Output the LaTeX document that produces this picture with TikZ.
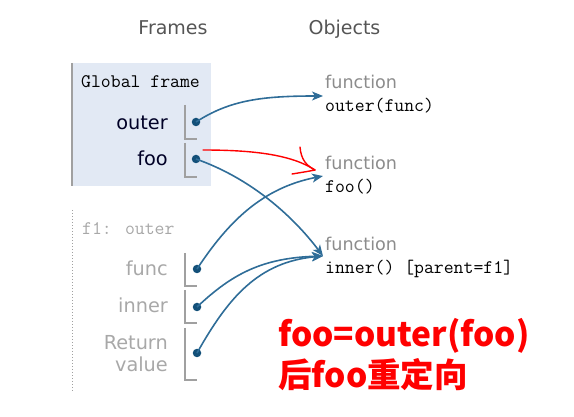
\documentclass[tikz,border=0pt]{standalone}
\usepackage{fontspec}
\setmainfont{DejaVu Sans}
\newfontfamily\cjkf{Noto Sans CJK SC}
\usetikzlibrary{arrows.meta}
\definecolor{framebg}{HTML}{E2E9F4}
\definecolor{arrowc}{HTML}{2F6D98}
\definecolor{dotc}{HTML}{135079}
\definecolor{headc}{HTML}{555555}
\definecolor{fadec}{HTML}{A8A8A8}
\definecolor{funcc}{HTML}{8C8C8C}
\definecolor{brk}{HTML}{A0A0A0}
\tikzset{
  hdr/.style={anchor=base,text=headc,font=\fontsize{19}{19}\selectfont,inner sep=0},
  glabel/.style={anchor=base east,text=black!85!blue,font=\fontsize{19.3}{19.3}\selectfont,inner sep=0},
  flabel/.style={anchor=base east,text=fadec,font=\fontsize{19.3}{19.3}\selectfont,inner sep=0},
  monotext/.style={anchor=base west,font=\ttfamily\fontsize{19.2}{19.2}\selectfont,inner sep=0},
  functxt/.style={anchor=base west,text=funcc,font=\fontsize{17.6}{17.6}\selectfont,inner sep=0},
  ptr/.style={circle,fill=dotc,inner sep=0,minimum size=8.5pt},
  brack/.style={draw=brk,line width=1.2pt},
  link/.style={draw=arrowc,line width=1.6pt,-{Stealth[length=11pt,width=9pt,inset=3pt]}},
  redtxt/.style={anchor=base west,text=red,font=\cjkf\bfseries\fontsize{33.5}{33.5}\selectfont,inner sep=0},
  redpen/.style={draw=red,line width=1.4pt,line cap=round,line join=round}
}
\begin{document}
\begin{tikzpicture}[x=1pt,y=-1pt]
\useasboundingbox (0,0) rectangle (574,417);
% headers
\node[hdr] (hf) at (173,35) {Frames};
\node[hdr] (ho) at (344.5,35) {Objects};
% global frame
\fill[framebg] (72,63) rectangle (211,186);
\draw[brk,line width=1.6pt] (72,63) -- (72,186);
\node[monotext] (gf) at (81,88) {Global frame};
\node[glabel] (louter) at (168,130) {outer};
\node[glabel] (lfoo) at (168,166) {foo};
\draw[brack] (185,105) -- (185,139) -- (197,139);
\draw[brack] (185,143) -- (185,177) -- (197,177);
\node[ptr] (douter) at (196,122) {};
\node[ptr] (dfoo) at (196,159) {};
% f1 frame
\draw[brk,line width=1pt,dotted] (72,210) -- (72,392);
\node[monotext,text=fadec] (f1) at (82,235) {f1: outer};
\node[flabel] (lfunc) at (168,276) {func};
\node[flabel] (linner) at (168,313) {inner};
\node[flabel] (lret1) at (168,350) {Return};
\node[flabel] (lret2) at (168,372) {value};
\draw[brack] (185,253) -- (185,286) -- (197,286);
\draw[brack] (185,290) -- (185,323) -- (197,323);
\draw[brack] (185,328) -- (185,380) -- (197,380);
\node[ptr] (dfunc) at (197,269) {};
\node[ptr] (dinner) at (197,307) {};
\node[ptr] (dret) at (197,353) {};
% objects
\node[functxt] (fn1) at (325,89) {function};
\node[monotext] (o1) at (325,112) {outer(func)};
\node[functxt] (fn2) at (325,170) {function};
\node[monotext] (o2) at (325,193) {foo()};
\node[functxt] (fn3) at (325,251) {function};
\node[monotext] (o3) at (325,274) {inner() [parent=f1]};
\coordinate (t1) at (323,96);
\coordinate (t2) at (323,176);
\coordinate (t3) at (323,256);
% links
\draw[link] (douter.center) .. controls (230,100) and (262,96) .. (t1);
\draw[link] (dfoo.center) .. controls (250,178) and (292,215) .. (t3);
\draw[link] (dfunc.center) .. controls (228,222) and (262,188) .. (t2);
\draw[link] (dinner.center) .. controls (232,274) and (262,258) .. (t3);
\draw[link] (dret.center) .. controls (228,298) and (258,262) .. (t3);
% red annotation
\coordinate (rs) at (203,150);
\coordinate (rt) at (315,170);
\coordinate (ra) at (300,147);
\coordinate (rb) at (292,174);
\draw[redpen] (rs) .. controls (255,150) and (292,155) .. (rt);
\draw[redpen] (ra) .. controls (301,160) and (307,166) .. (rt) .. controls (305,172) and (298,173) .. (rb);
\node[redtxt] (r1) at (278,347) {foo=outer(foo)};
\node[redtxt] (r2) at (278,388) {后foo重定向};
\end{tikzpicture}
\end{document}
